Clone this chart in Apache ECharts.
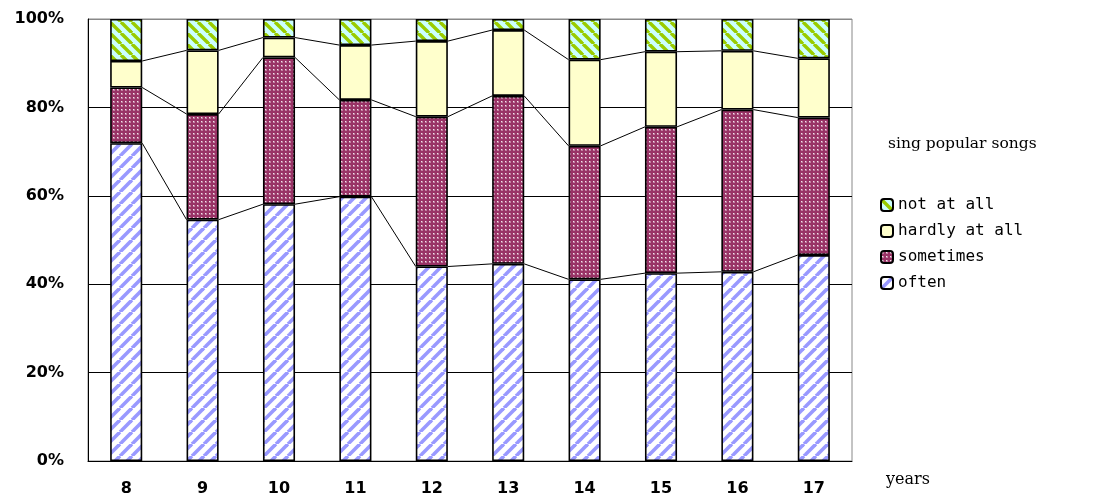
<!DOCTYPE html>
<html>
<head>
<meta charset="utf-8">
<script src="https://cdn.jsdelivr.net/npm/echarts@6/dist/echarts.min.js"></script>
<style>
  html, body { margin: 0; padding: 0; background: #fff; }
  #chart { width: 1095px; height: 498px; }
</style>
</head>
<body>
<div id="chart"></div>
<script>
// Survey: how often children sing popular songs, by age (share of answers, %)
const years = ['8', '9', '10', '11', '12', '13', '14', '15', '16', '17'];
const often      = [71.9, 54.6, 58.1, 59.8, 44.0, 44.6, 41.1, 42.5, 42.8, 46.6];
const sometimes  = [12.6, 23.9, 33.2, 21.9, 33.9, 38.0, 30.2, 33.1, 36.7, 31.1];
const hardlyAtAll = [6.0, 14.4, 4.5, 12.4, 17.1, 14.9, 19.5, 17.0, 13.3, 13.4];
const notAtAll   = [9.5, 7.1, 4.2, 5.9, 5.0, 2.5, 9.2, 7.4, 7.2, 8.9];
const yTicks = [0, 20, 40, 60, 80, 100];

const BAR_FRAC = 0.42;

// --- fill patterns -------------------------------------------------------
function tile(size, draw) {
  const c = document.createElement('canvas');
  c.width = size; c.height = size;
  const g = c.getContext('2d');
  draw(g, size);
  return { image: c, repeat: 'repeat' };
}
function stripes(size, bg, fg, width, rising) {
  return tile(size, (g, s) => {
    g.fillStyle = bg; g.fillRect(0, 0, s, s);
    g.strokeStyle = fg; g.lineWidth = width;
    for (let k = -1; k <= 1; k++) {
      g.beginPath();
      if (rising) { g.moveTo(k * s, s); g.lineTo(k * s + s, 0); }
      else { g.moveTo(k * s, 0); g.lineTo(k * s + s, s); }
      g.stroke();
    }
  });
}
const oftenFill = stripes(12, '#ffffff', '#9999ff', 3.6, true);
const notFill = stripes(11, '#ccffff', '#99cc00', 3.4, false);
const sometimesFill = tile(4, (g, s) => {
  g.fillStyle = '#993366'; g.fillRect(0, 0, s, s);
  g.fillStyle = '#c080a0'; g.fillRect(1, 1, 2, 2);
  g.fillStyle = '#f4e4ec'; g.fillRect(1, 1, 1, 1);
});
const hardlyFill = '#ffffcc';

// --- connector lines between stacked segment tops ------------------------
const layers = [often, sometimes, hardlyAtAll];
const cumulative = [];
let run = years.map(() => 0);
layers.forEach(arr => {
  run = run.map((v, i) => v + arr[i]);
  cumulative.push(run.slice());
});
const linkData = [];
cumulative.forEach(level => {
  for (let i = 0; i < years.length - 1; i++) {
    linkData.push([i, level[i], i + 1, level[i + 1]]);
  }
});

const chart = echarts.init(document.getElementById('chart'));
const axisFont = { fontFamily: 'DejaVu Sans', fontSize: 16, fontWeight: 'bold', color: '#000' };
const serifFont = { fontFamily: 'DejaVu Serif', fontSize: 15.5, fontWeight: 'normal', color: '#000' };
const barBase = { type: 'bar', stack: 'total', barWidth: (BAR_FRAC * 100) + '%' };
const border = { borderColor: '#000', borderWidth: 1.6 };

chart.setOption({
  animation: false,
  backgroundColor: '#ffffff',
  title: [
    { text: 'sing popular songs', left: 883, top: 131, textStyle: serifFont },
    { text: 'years', left: 881, top: 467, textStyle: Object.assign({}, serifFont, { fontSize: 16 }) }
  ],
  legend: {
    orient: 'vertical', left: 880, top: 197, padding: 0,
    itemWidth: 12, itemHeight: 12, itemGap: 10,
    data: ['not at all', 'hardly at all', 'sometimes', 'often'],
    textStyle: { fontFamily: 'DejaVu Sans Mono', fontSize: 16, lineHeight: 16, color: '#000' }
  },
  grid: { left: 88, right: 243, top: 19, bottom: 37, show: true, borderColor: '#888', borderWidth: 1 },
  xAxis: {
    type: 'category', data: years,
    axisLine: { lineStyle: { color: '#000', width: 1 } },
    axisTick: { inside: true, length: 5, lineStyle: { color: '#000' } },
    axisLabel: Object.assign({ margin: 20 }, axisFont)
  },
  yAxis: {
    type: 'value', min: 0, max: 100, interval: 20,
    axisLine: { show: true, lineStyle: { color: '#000', width: 1 } },
    axisTick: { show: false },
    axisLabel: Object.assign({ margin: 24, formatter: v => yTicks.includes(v) ? v + '%' : '' }, axisFont),
    splitLine: { lineStyle: { color: ['#000', '#000', '#000', '#000', '#000', '#888'], width: 1 } }
  },
  series: [
    Object.assign({ name: 'often', data: often, itemStyle: Object.assign({ color: oftenFill }, border) }, barBase),
    Object.assign({ name: 'sometimes', data: sometimes, itemStyle: Object.assign({ color: sometimesFill }, border) }, barBase),
    Object.assign({ name: 'hardly at all', data: hardlyAtAll, itemStyle: Object.assign({ color: hardlyFill }, border) }, barBase),
    Object.assign({ name: 'not at all', data: notAtAll, itemStyle: Object.assign({ color: notFill }, border) }, barBase),
    {
      type: 'custom', name: 'links', data: linkData, z: 5,
      encode: { x: [0, 2], y: [1, 3] },
      renderItem: (params, api) => {
        const a = api.coord([api.value(0), api.value(1)]);
        const b = api.coord([api.value(2), api.value(3)]);
        const half = api.size([1, 0])[0] * BAR_FRAC / 2;
        return {
          type: 'line',
          shape: { x1: a[0] + half, y1: a[1], x2: b[0] - half, y2: b[1] },
          style: { stroke: '#000', lineWidth: 1 }
        };
      }
    }
  ]
});
</script>
</body>
</html>
